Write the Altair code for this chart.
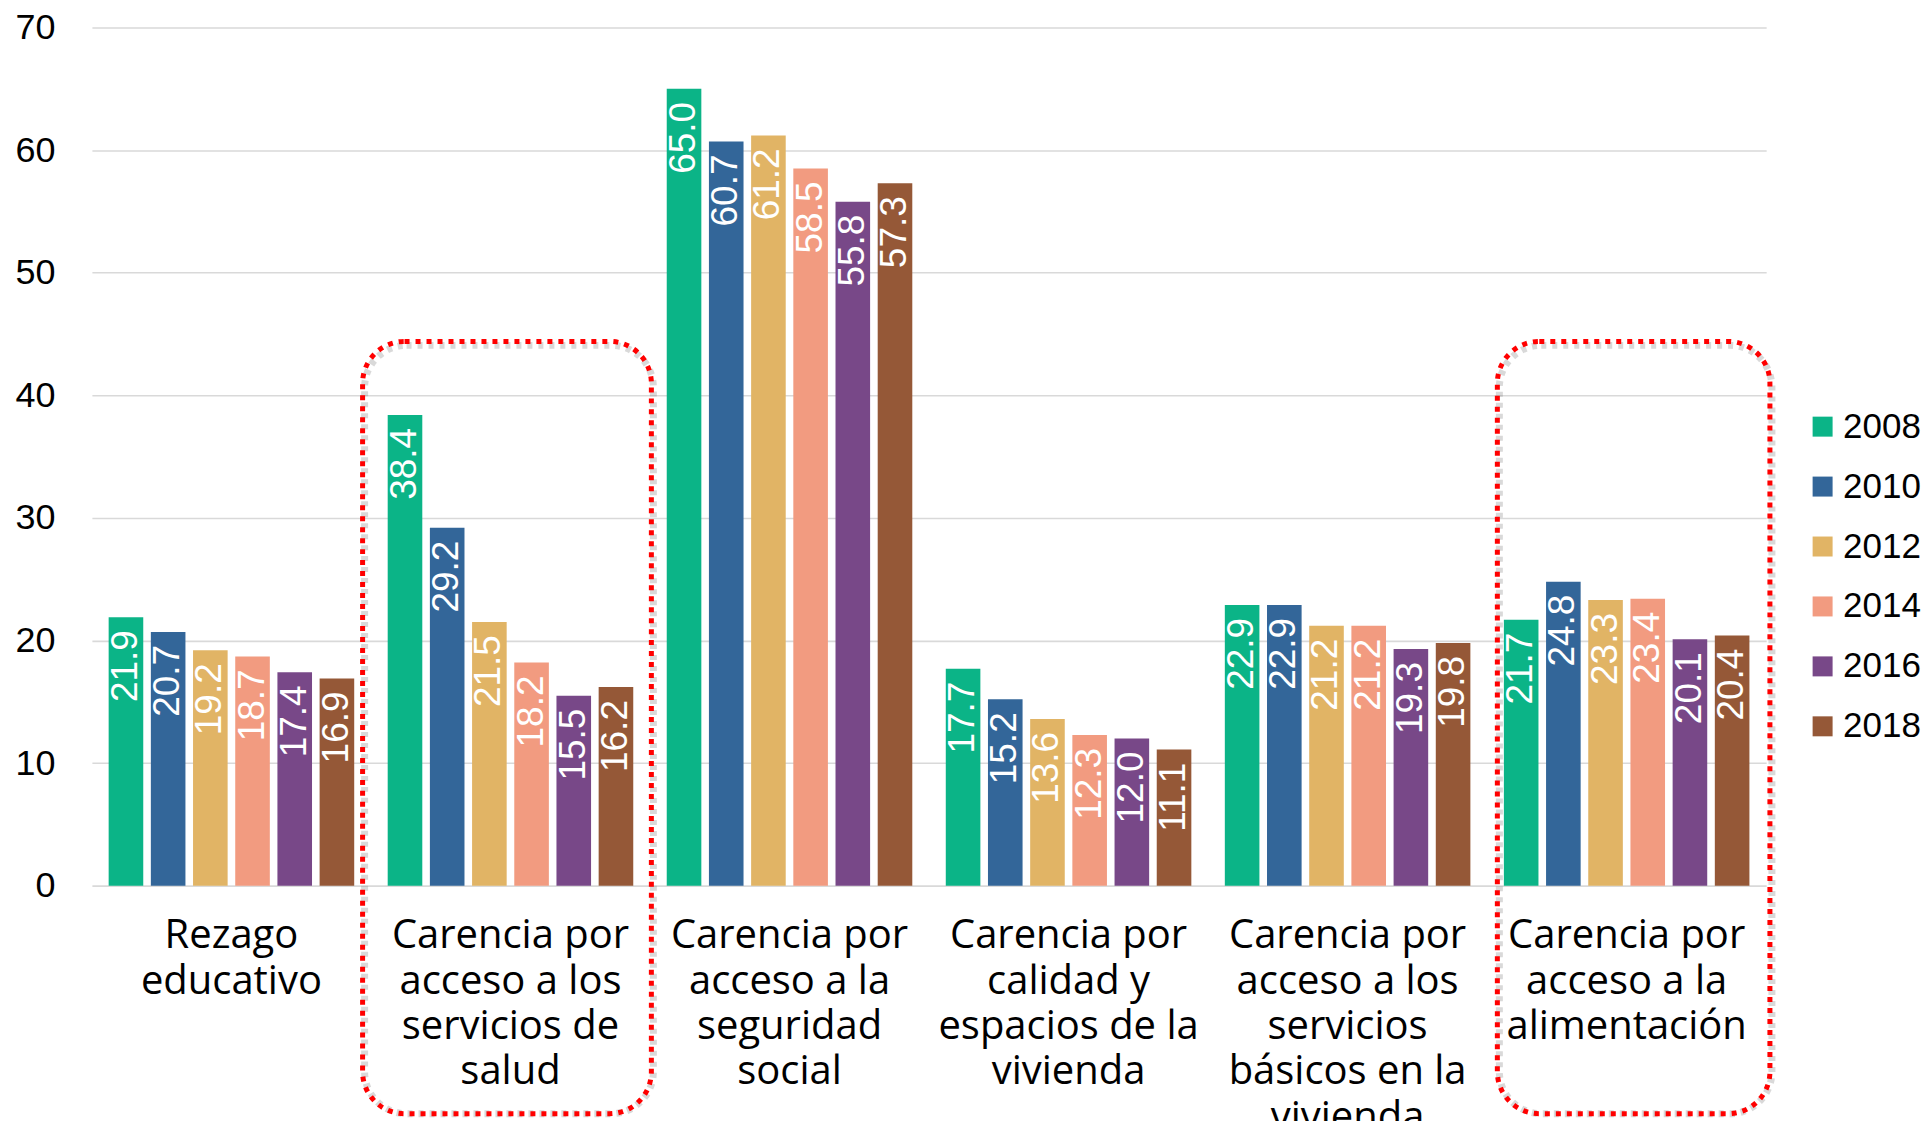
import altair as alt
import pandas as pd

categories = [
    "Rezago|educativo",
    "Carencia por|acceso a los|servicios de|salud",
    "Carencia por|acceso a la|seguridad|social",
    "Carencia por|calidad y|espacios de la|vivienda",
    "Carencia por|acceso a los|servicios|básicos en la|vivienda",
    "Carencia por|acceso a la|alimentación",
]
years = ["2008", "2010", "2012", "2014", "2016", "2018"]
values = [
    [21.9, 20.7, 19.2, 18.7, 17.4, 16.9],
    [38.4, 29.2, 21.5, 18.2, 15.5, 16.2],
    [65.0, 60.7, 61.2, 58.5, 55.8, 57.3],
    [17.7, 15.2, 13.6, 12.3, 12.0, 11.1],
    [22.9, 22.9, 21.2, 21.2, 19.3, 19.8],
    [21.7, 24.8, 23.3, 23.4, 20.1, 20.4],
]
colors = ["#0BB487", "#336699", "#E1B465", "#F29B80", "#784888", "#955837"]

box_categories = [categories[1], categories[5]]
box_top = [44.4, 44.4]
box_bottom = [-18.6, -18.6]

rows = []
for c, vals in zip(categories, values):
    for y, v in zip(years, vals):
        rows.append({"cat": c, "year": y, "value": v})
df = pd.DataFrame(rows)
boxes = pd.DataFrame({"cat": box_categories, "top": box_top, "bottom": box_bottom})

CAT_FONT = "Open Sans"
NUM_FONT = "Liberation Sans"

x_enc = alt.X(
    "cat:N",
    sort=categories,
    scale=alt.Scale(paddingInner=0.12, paddingOuter=0.06),
    axis=alt.Axis(
        title=None,
        labelExpr="split(datum.label, '|')",
        labelAngle=0,
        labelFontSize=40,
        labelFont=CAT_FONT,
        labelColor="#000000",
        labelLineHeight=45.5,
        labelPadding=30,
        ticks=False,
        domain=False,
        grid=False,
        labelLimit=400,
    ),
)
y_scale = alt.Scale(domain=[0, 70], nice=False)
y_enc = alt.Y(
    "value:Q",
    scale=y_scale,
    axis=alt.Axis(
        title=None,
        values=[0, 10, 20, 30, 40, 50, 60, 70],
        labelFontSize=36,
        labelFont=NUM_FONT,
        labelColor="#000000",
        labelPadding=37,
        tickSize=0,
        ticks=False,
        domain=False,
        gridColor="#D9D9D9",
        gridWidth=1.6,
    ),
)
xoff = alt.XOffset("year:N", sort=years, scale=alt.Scale(paddingInner=0.18, paddingOuter=0))

bars = alt.Chart(df).mark_bar().encode(
    x=x_enc,
    xOffset=xoff,
    y=y_enc,
    color=alt.Color(
        "year:N",
        sort=years,
        scale=alt.Scale(domain=years, range=colors),
        legend=alt.Legend(
            title=None,
            orient="none",
            legendX=1715,
            legendY=382,
            padding=0,
            symbolType="square",
            symbolSize=400,
            symbolStrokeWidth=0,
            labelFontSize=35,
            labelFont=NUM_FONT,
            labelColor="#000000",
            labelOffset=3,
            rowPadding=24,
        ),
    ),
)

labels = alt.Chart(df).mark_text(
    angle=270, align="right", baseline="middle", dx=-13,
    color="white", fontSize=37, font=NUM_FONT,
).encode(
    x=alt.X("cat:N", sort=categories),
    xOffset=xoff,
    y=alt.Y("value:Q", scale=y_scale),
    text=alt.Text("value:Q", format=".1f"),
)

box_enc = dict(
    x=alt.X("cat:N", sort=categories),
    y=alt.Y("top:Q", scale=y_scale),
    y2="bottom:Q",
)


def box_layers(idx, band, xoffset):
    sub = boxes.iloc[[idx]]
    shadow = alt.Chart(sub).mark_rect(
        fill=None, stroke="#777777", strokeOpacity=0.28, strokeWidth=7,
        strokeDash=[5, 6], cornerRadius=42, width={"band": band},
        xOffset=xoffset + 2, yOffset=4,
    ).encode(**box_enc)
    box = alt.Chart(sub).mark_rect(
        fill=None, stroke="#FF0000", strokeWidth=5,
        strokeDash=[5, 6], cornerRadius=42, width={"band": band},
        xOffset=xoffset,
    ).encode(**box_enc)
    return [shadow, box]


chart = alt.layer(
    bars, labels, *box_layers(0, 1.176, -3.5), *box_layers(1, 1.11, 7)
).properties(
    width=1676, height=859,
    autosize=alt.AutoSizeParams(type="none"),
    padding={"left": 84, "top": 19, "right": 156, "bottom": 235},
).configure(font=CAT_FONT).configure_view(stroke="transparent", strokeWidth=0)

chart.save("out.html", embed_options={"renderer": "svg", "actions": False})
